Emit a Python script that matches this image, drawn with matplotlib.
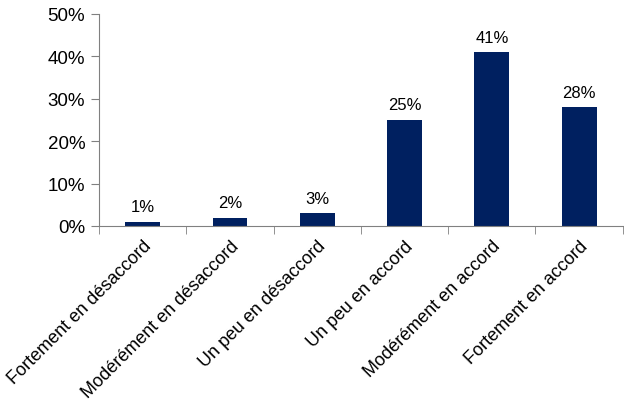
import matplotlib
matplotlib.use("Agg")
import matplotlib.pyplot as plt
import matplotlib.ticker as ticker

categories = [
    "Fortement en désaccord",
    "Modérément en désaccord",
    "Un peu en désaccord",
    "Un peu en accord",
    "Modérément en accord",
    "Fortement en accord",
]
values = [1, 2, 3, 25, 41, 28]

plt.rcParams["font.family"] = ["Liberation Sans", "DejaVu Sans"]

fig = plt.figure(figsize=(6.24, 4.14), dpi=100)
ax = fig.add_axes([0.1587, 0.4517, 0.8393, 0.5121])

x = list(range(len(categories)))
ax.bar(x, values, width=0.4, color="#002060")
for xi, v in zip(x, values):
    ax.text(xi, v + 1.8, f"{v}%", ha="center", va="bottom", fontsize=12, color="black")

ax.set_xlim(-0.5, len(categories) - 0.5)
ax.set_ylim(0, 50)
ax.set_yticks(range(0, 51, 10))
ax.yaxis.set_major_formatter(ticker.FuncFormatter(lambda v, p: f"{v:.0f}%"))

ax.set_xticks(x)
ax.set_xticklabels(categories, rotation=45, ha="right", rotation_mode="anchor", fontsize=13)
ax.set_xticks([i - 0.5 for i in range(len(categories) + 1)], minor=True)
ax.tick_params(axis="x", which="major", length=0, pad=8)
ax.tick_params(axis="x", which="minor", length=6, color="#808080", direction="out")
ax.tick_params(axis="y", length=6, color="#808080", labelsize=13.5, pad=4)

for s in ["top", "right"]:
    ax.spines[s].set_visible(False)
for s in ["left", "bottom"]:
    ax.spines[s].set_color("#808080")

fig.savefig("out.png", dpi=100)
